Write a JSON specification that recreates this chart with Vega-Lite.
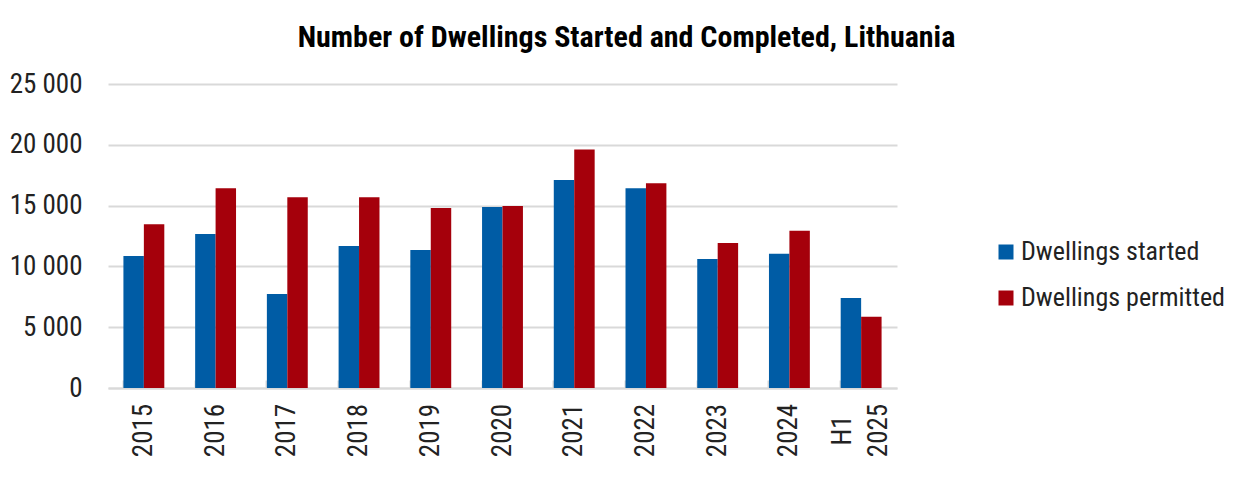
{
  "$schema": "https://vega.github.io/schema/vega-lite/v6.json",
  "autosize": "none",
  "width": 789,
  "height": 304,
  "padding": {"left": 108, "top": 84, "right": 360, "bottom": 105},
  "background": "white",
  "title": {
    "text": "Number of Dwellings Started and Completed, Lithuania",
    "font": "Liberation Sans Narrow, Roboto Condensed, Roboto",
    "fontSize": 30,
    "fontWeight": "bold",
    "color": "black",
    "anchor": "middle",
    "dx": 124,
    "offset": 17
  },
  "data": {
    "values": [
      {"period": "2015", "series": "Dwellings started", "value": 10850},
      {"period": "2015", "series": "Dwellings permitted", "value": 13470},
      {"period": "2016", "series": "Dwellings started", "value": 12660},
      {"period": "2016", "series": "Dwellings permitted", "value": 16430},
      {"period": "2017", "series": "Dwellings started", "value": 7740},
      {"period": "2017", "series": "Dwellings permitted", "value": 15690},
      {"period": "2018", "series": "Dwellings started", "value": 11670},
      {"period": "2018", "series": "Dwellings permitted", "value": 15690},
      {"period": "2019", "series": "Dwellings started", "value": 11340},
      {"period": "2019", "series": "Dwellings permitted", "value": 14810},
      {"period": "2020", "series": "Dwellings started", "value": 14890},
      {"period": "2020", "series": "Dwellings permitted", "value": 14970},
      {"period": "2021", "series": "Dwellings started", "value": 17100},
      {"period": "2021", "series": "Dwellings permitted", "value": 19620},
      {"period": "2022", "series": "Dwellings started", "value": 16430},
      {"period": "2022", "series": "Dwellings permitted", "value": 16840},
      {"period": "2023", "series": "Dwellings started", "value": 10600},
      {"period": "2023", "series": "Dwellings permitted", "value": 11920},
      {"period": "2024", "series": "Dwellings started", "value": 11040},
      {"period": "2024", "series": "Dwellings permitted", "value": 12930},
      {"period": "H1 2025", "series": "Dwellings started", "value": 7410},
      {"period": "H1 2025", "series": "Dwellings permitted", "value": 5850}
    ]
  },
  "mark": {"type": "bar"},
  "encoding": {
    "x": {
      "field": "period",
      "type": "nominal",
      "sort": null,
      "title": null,
      "scale": {"paddingInner": 0.43, "paddingOuter": 0.215},
      "axis": {
        "labelAngle": -90,
        "labelAlign": "center",
        "labelBaseline": "middle",
        "labelPadding": 50,
        "labelOffset": {"condition": {"test": "datum.value == 'H1 2025'", "value": -18}, "value": 0},
        "labelExpr": "split(datum.label, ' ')",
        "labelFont": "Liberation Sans Narrow, Roboto Condensed, Roboto",
        "labelFontSize": 27,
        "labelColor": "#222222",
        "labelLineHeight": 36,
        "bandPosition": 0,
        "tickSize": -8,
        "tickWidth": 2,
        "tickColor": "#d9d9d9",
        "domainColor": "#d9d9d9",
        "domainWidth": 2,
        "grid": false
      }
    },
    "xOffset": {
      "field": "series",
      "type": "nominal",
      "sort": ["Dwellings started", "Dwellings permitted"],
      "scale": {"paddingInner": 0, "paddingOuter": 0}
    },
    "y": {
      "field": "value",
      "type": "quantitative",
      "title": null,
      "scale": {"domain": [0, 25000], "nice": false},
      "axis": {
        "values": [0, 5000, 10000, 15000, 20000, 25000],
        "labelExpr": "replace(format(datum.value, ',d'), ',', ' ')",
        "labelFont": "Liberation Sans Narrow, Roboto Condensed, Roboto",
        "labelFontSize": 27,
        "labelColor": "#222222",
        "labelPadding": 26,
        "domain": false,
        "ticks": false,
        "grid": true,
        "gridColor": "#d9d9d9",
        "gridWidth": 2
      }
    },
    "color": {
      "field": "series",
      "type": "nominal",
      "sort": ["Dwellings started", "Dwellings permitted"],
      "title": null,
      "scale": {
        "domain": ["Dwellings started", "Dwellings permitted"],
        "range": ["#005ca5", "#a5000b"]
      },
      "legend": {
        "orient": "none",
        "legendX": 885,
        "legendY": 155,
        "padding": 0,
        "symbolType": "square",
        "symbolSize": 225,
        "symbolStrokeWidth": 0,
        "labelFont": "Liberation Sans Narrow, Roboto Condensed, Roboto",
        "labelFontSize": 26,
        "labelColor": "#222222",
        "labelOffset": 2,
        "rowPadding": 20,
        "labelLimit": 300
      }
    }
  },
  "config": {
    "view": {"stroke": null}
  }
}
